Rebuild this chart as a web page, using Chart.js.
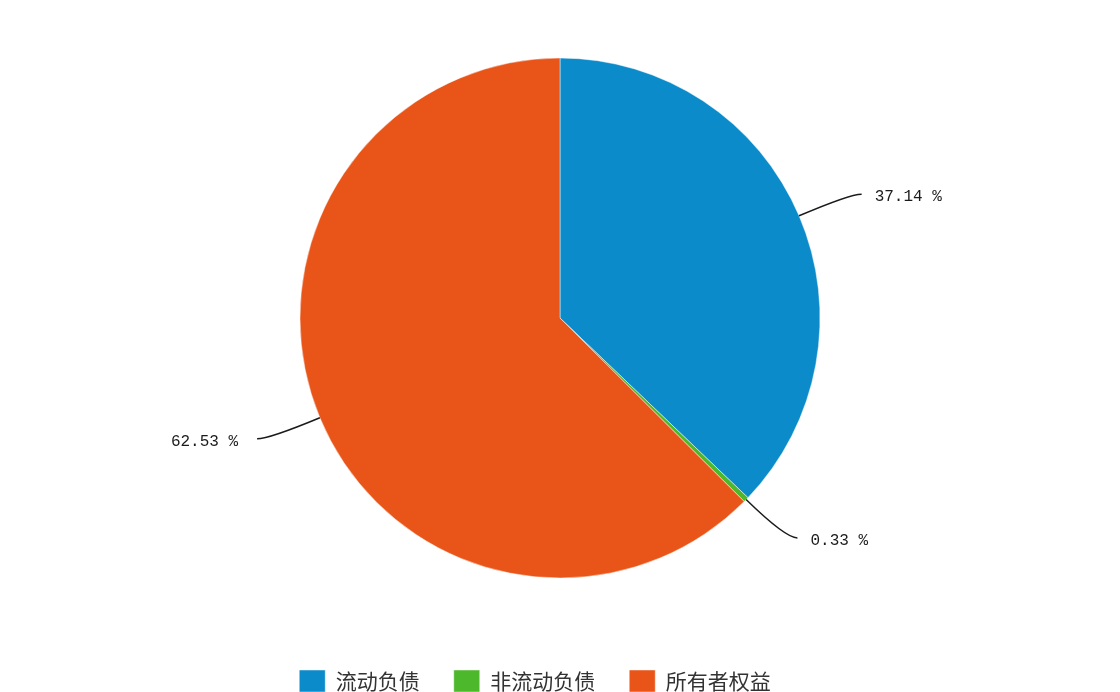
<!DOCTYPE html>
<html>
<head>
<meta charset="utf-8">
<script src="https://cdn.jsdelivr.net/npm/chart.js@4"></script>
<style>
  html, body { margin: 0; padding: 0; background: #ffffff; overflow: hidden; }
  #wrap { position: relative; width: 1120px; height: 702px; }
</style>
</head>
<body>
<div id="wrap"><canvas id="c"></canvas></div>
<script>
const categories = ['流动负债', '非流动负债', '所有者权益'];
const values = [37.14, 0.33, 62.53];
const colors = ['#0C8BCB', '#4DB82B', '#E95418'];

const legendShift = {
  id: 'legendShift',
  afterLayout(chart) {
    if (chart.legend) {
      chart.legend.left -= 25;
      chart.legend.right -= 25;
    }
  }
};

const leaderPlugin = {
  id: 'leaders',
  afterDatasetsDraw(chart) {
    const ctx = chart.ctx;
    const meta = chart.getDatasetMeta(0);
    const data = chart.data.datasets[0].data;
    const total = data.reduce((a, b) => a + b, 0);
    ctx.save();
    meta.data.forEach((arc, i) => {
      const p = arc.getProps(['x', 'y', 'startAngle', 'endAngle', 'outerRadius'], true);
      const mid = (p.startAngle + p.endAngle) / 2;
      const cos = Math.cos(mid), sin = Math.sin(mid);
      const sx = p.x + cos * p.outerRadius;
      const sy = p.y + sin * p.outerRadius;
      const ex = p.x + cos * (p.outerRadius + 55);
      const ey = p.y + sin * (p.outerRadius + 55);
      const right = cos >= 0;
      const fx = ex + (right ? 12 : -12);
      ctx.beginPath();
      ctx.strokeStyle = '#1a1a1a';
      ctx.lineWidth = 1.5;
      ctx.moveTo(sx, sy);
      ctx.quadraticCurveTo(ex, ey, fx, ey);
      ctx.stroke();
      const txt = (data[i] / total * 100).toFixed(2) + ' %';
      ctx.font = '16px "Liberation Mono", "DejaVu Sans Mono", monospace';
      ctx.fillStyle = '#1a1a1a';
      ctx.textBaseline = 'middle';
      ctx.textAlign = right ? 'left' : 'right';
      ctx.fillText(txt, fx + (right ? 13 : -19), ey + 3);
    });
    ctx.restore();
  }
};

new Chart(document.getElementById('c'), {
  type: 'pie',
  data: {
    labels: categories,
    datasets: [{
      data: values,
      backgroundColor: colors,
      borderColor: 'rgba(255,255,255,0.45)',
      borderWidth: 1,
      radius: 260
    }]
  },
  options: {
    responsive: true,
    maintainAspectRatio: false,
    animation: false,
    layout: { padding: 0 },
    plugins: {
      tooltip: { enabled: false },
      legend: {
        position: 'bottom',
        labels: {
          boxWidth: 26,
          boxHeight: 22,
          padding: 34,
          color: '#333',
          font: { family: '"Noto Sans CJK SC", "Noto Sans", sans-serif', size: 21 }
        }
      }
    }
  },
  plugins: [legendShift, leaderPlugin]
});
</script>
</body>
</html>
